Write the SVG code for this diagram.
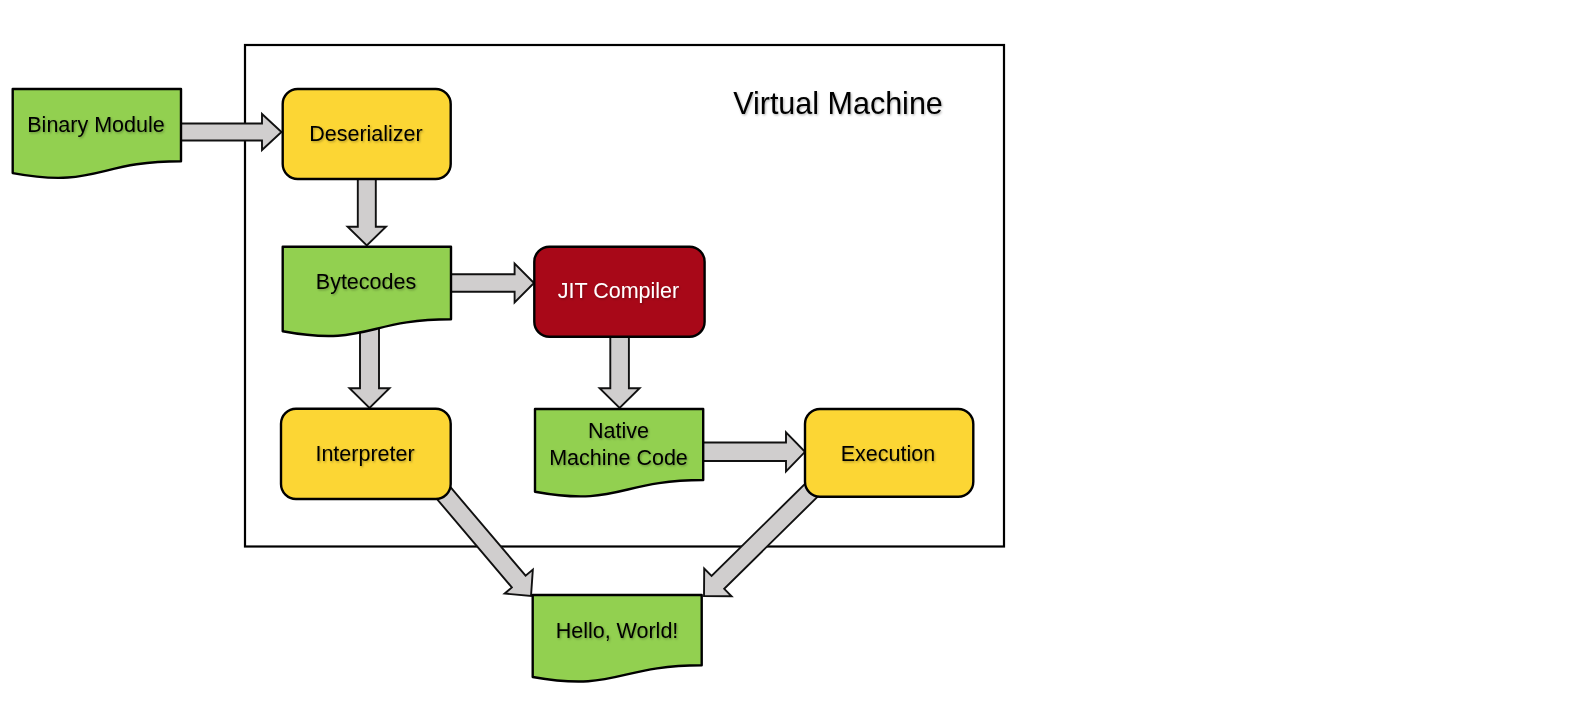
<svg xmlns="http://www.w3.org/2000/svg" width="1594" height="702" viewBox="0 0 1594 702">
<defs>
<filter id="ts" x="-10%" y="-30%" width="120%" height="160%">
<feDropShadow dx="1" dy="1.2" stdDeviation="1" flood-color="#000" flood-opacity="0.3"/>
</filter>
</defs>
<style>
.doc{fill:#92D050;stroke:#000;stroke-width:2.4;stroke-linejoin:round}
.proc{fill:#FCD634;stroke:#000;stroke-width:2.4}
.jit{fill:#A80818;stroke:#000;stroke-width:2.4}
.arr{fill:#D0CECE;stroke:#111;stroke-width:1.9;stroke-linejoin:miter}
.t{font-family:"Liberation Sans",Arial,sans-serif;font-size:21.5px;fill:#000;text-anchor:middle;filter:url(#ts)}
.tw{fill:#fff}
.title{font-family:"Liberation Sans",Arial,sans-serif;font-size:30.5px;fill:#000;text-anchor:middle;filter:url(#ts)}
</style>
<rect width="1594" height="702" fill="#fff"/>
<g id="vm">
<rect x="245" y="45" width="759" height="501.5" fill="none" stroke="#000" stroke-width="2.2"/>
<text class="title" x="838" y="114">Virtual Machine</text>
</g>
<g id="connectors">
<path class="arr" d="M181,123.5 L262,123.5 L262,114 L281.5,132 L262,150 L262,140.5 L181,140.5 Z"/>
<path class="arr" d="M357.8,179 L375.8,179 L375.8,226.7 L386,226.7 L366.8,245.5 L347.6,226.7 L357.8,226.7 Z"/>
<path class="arr" d="M451,274.3 L514.6,274.3 L514.6,263.5 L534,283 L514.6,302.5 L514.6,291.7 L451,291.7 Z"/>
<path class="arr" d="M360,325 L379,325 L379,388.3 L389.5,388.3 L369.5,408 L349.5,388.3 L360,388.3 Z"/>
<path class="arr" d="M610.3,336.7 L628.9,336.7 L628.9,388.3 L639.6,388.3 L619.6,408 L599.6,388.3 L610.3,388.3 Z"/>
<path class="arr" d="M703,442.5 L786,442.5 L786,432.3 L805,451.8 L786,471.3 L786,461 L703,461 Z"/>
<path class="arr" transform="translate(436,484) rotate(49.7)" d="M0,-9 L127.9,-9 L127.9,-18.5 L146.9,0 L127.9,18.5 L127.9,9 L0,9 Z"/>
<path class="arr" transform="translate(820,481.7) rotate(135.4)" d="M0,-9 L143.4,-9 L143.4,-19.5 L162.9,0 L143.4,19.5 L143.4,9 L0,9 Z"/>
</g>
<g id="binary-module">
<path class="doc" d="M12.7,89 H181 V161.2 C96.8,161.2 96.8,188.6 12.7,173.1 Z"/>
<text class="t" x="96" y="131.5">Binary Module</text>
</g>
<g id="deserializer">
<rect class="proc" x="282.7" y="89" width="168" height="90" rx="15"/>
<text class="t" x="366" y="140.5">Deserializer</text>
</g>
<g id="bytecodes">
<path class="doc" d="M282.7,246.7 H451 V319.3 C366.8,319.3 366.8,346.9 282.7,331.2 Z"/>
<text class="t" x="366" y="289">Bytecodes</text>
</g>
<g id="jit-compiler">
<rect class="jit" x="534.3" y="246.7" width="170.3" height="90" rx="15"/>
<text class="t tw" x="618.5" y="298.3">JIT Compiler</text>
</g>
<g id="interpreter">
<rect class="proc" x="281" y="408.7" width="169.7" height="90.3" rx="15"/>
<text class="t" x="365" y="460.5">Interpreter</text>
</g>
<g id="native-machine-code">
<path class="doc" d="M535,409 H703.2 V480 C619.1,480 619.1,507 535,491.7 Z"/>
<text class="t" x="618.5" y="438.3">Native</text>
<text class="t" x="618.5" y="465">Machine Code</text>
</g>
<g id="execution">
<rect class="proc" x="805" y="409" width="168.3" height="87.7" rx="15"/>
<text class="t" x="888" y="460.5">Execution</text>
</g>
<g id="hello-world">
<path class="doc" d="M532.7,595 H701.7 V665.3 C617.2,665.3 617.2,692 532.7,677 Z"/>
<text class="t" x="617" y="638.3">Hello, World!</text>
</g>
</svg>
